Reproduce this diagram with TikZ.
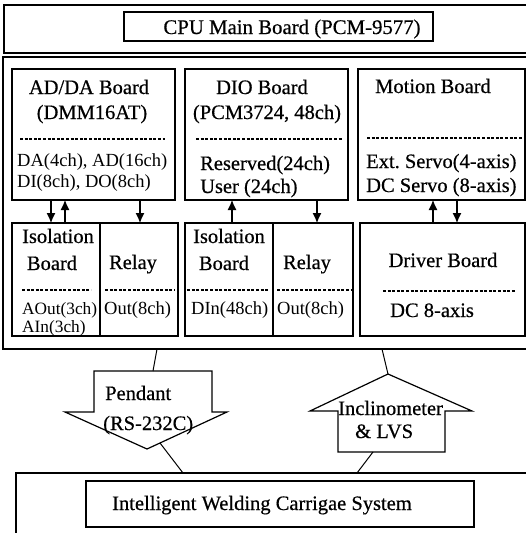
\documentclass[tikz,border=0pt]{standalone}
\usepackage{fontspec}
\setmainfont{Liberation Serif}
\newfontfamily\heavyserif[FakeBold=0.5]{Liberation Serif}
\usetikzlibrary{arrows.meta,fit}
\frenchspacing
\begin{document}
\begin{tikzpicture}[x=1pt,y=-1pt,
  frame/.style={draw, line width=1.2pt, inner sep=0pt, outer sep=0pt},
  big/.style={font=\heavyserif\fontsize{20.5}{24}\selectfont, inner sep=0pt},
  small/.style={font=\fontsize{18.5}{22}\selectfont, inner sep=0pt},
  sep/.style={line width=1.5pt, dash pattern=on 3pt off 1.6pt},
  link/.style={line width=1.1pt, -{Latex[length=10pt,width=9pt]}},
  wire/.style={line width=1pt},
  bigarrow/.style={draw, line width=1.2pt, line join=miter}
]
\useasboundingbox (0,0) rectangle (526,533);
\clip (0,0) rectangle (526,533);

% outer frames
\node[frame, fit={(4,5) (560,53)}] (topframe) {};
\node[frame, fit={(3,57) (560,349)}] (ctrl) {};
\node[frame, fit={(16,473) (560,560)}] (plant) {};

% CPU board
\node[frame, fit={(124,12) (433,41)}] (cpu) {};
\node[big, font=\heavyserif\fontsize{20.8}{24}\selectfont, anchor=base] (cputxt) at (292,34) {CPU Main Board (PCM-9577)};

% upper row of boards
\node[frame, fit={(12,69) (175,200)}] (adda) {};
\node[frame, fit={(185,69) (348,200)}] (dio) {};
\node[frame, fit={(358,69) (525,200)}] (motion) {};

\node[big, anchor=base] (addat1) at (89,94) {AD/DA Board};
\node[big, anchor=base] (addat2) at (92,119) {(DMM16AT)};
\draw[sep] (20,139) -- (165,139);
\node[small, anchor=base west] (addat3) at (17,166) {DA(4ch), AD(16ch)};
\node[small, anchor=base west] (addat4) at (17,187) {DI(8ch), DO(8ch)};

\node[big, anchor=base] (diot1) at (262,94) {DIO Board};
\node[big, anchor=base] (diot2) at (267,119) {(PCM3724, 48ch)};
\draw[sep] (196,139) -- (342,139);
\node[big, anchor=base west] (diot3) at (200,170) {Reserved(24ch)};
\node[big, anchor=base west] (diot4) at (200,193) {User (24ch)};

\node[big, anchor=base] (mott1) at (433,93) {Motion Board};
\draw[sep] (367,138) -- (522,138);
\node[big, anchor=base west] (mott2) at (366,168) {Ext. Servo(4-axis)};
\node[big, anchor=base west] (mott3) at (366,192) {DC Servo (8-axis)};

% lower row of boards
\node[frame, fit={(12,223) (100,336)}] (iso1) {};
\node[frame, fit={(100,223) (178,336)}] (relay1) {};
\node[frame, fit={(185,223) (273,336)}] (iso2) {};
\node[frame, fit={(273,223) (353,336)}] (relay2) {};
\node[frame, fit={(360,223) (525,336)}] (driver) {};

\node[big, anchor=base] (iso1t1) at (58,243) {Isolation};
\node[big, anchor=base] (iso1t2) at (52,270) {Board};
\draw[sep] (22,290) -- (91,290);
\node[small, font=\fontsize{17.3}{20}\selectfont, anchor=base west] (iso1t3) at (22,314) {AOut(3ch)};
\node[small, font=\fontsize{17.3}{20}\selectfont, anchor=base west] (iso1t4) at (22,332) {AIn(3ch)};

\node[big, anchor=base] (rel1t1) at (133,269) {Relay};
\draw[sep] (105,290) -- (175,290);
\node[small, anchor=base west] (rel1t2) at (104,314) {Out(8ch)};

\node[big, anchor=base] (iso2t1) at (229,243) {Isolation};
\node[big, anchor=base] (iso2t2) at (224,270) {Board};
\draw[sep] (187,290) -- (269,290);
\node[small, anchor=base west] (iso2t3) at (191,314) {DIn(48ch)};

\node[big, anchor=base] (rel2t1) at (307,269) {Relay};
\draw[sep] (277,290) -- (351,290);
\node[small, anchor=base west] (rel2t2) at (277,314) {Out(8ch)};

\node[big, anchor=base] (drvt1) at (443,267) {Driver Board};
\draw[sep] (383,291) -- (515,291);
\node[big, anchor=base west] (drvt2) at (390,317) {DC 8-axis};

% signal links between the rows
\draw[link] ([xshift=39pt]adda.south west) -- ([xshift=39pt]iso1.north west);
\draw[link] ([xshift=53pt]iso1.north west) -- ([xshift=53pt]adda.south west);
\draw[link] ([xshift=128pt]adda.south west) -- ([xshift=40pt]relay1.north west);
\draw[link] ([xshift=47pt]iso2.north west) -- ([xshift=47pt]dio.south west);
\draw[link] ([xshift=132pt]dio.south west) -- ([xshift=44pt]relay2.north west);
\draw[link] ([xshift=73pt]driver.north west) -- ([xshift=75pt]motion.south west);
\draw[link] ([xshift=99pt]motion.south west) -- ([xshift=97pt]driver.north west);

% pendant (down arrow)
\coordinate (pendTop) at (153,371);
\coordinate (pendTip) at (147,449);
\draw[bigarrow] (94,371) -- (212,371) -- (212,412) -- (227,412) -- (pendTip)
  -- (65,412) -- (94,412) -- cycle;
\node[big, anchor=base west] (pendt1) at (105,400) {Pendant};
\node[big, anchor=base west] (pendt2) at (103,430) {(RS-232C)};
\coordinate (ctrlP) at (157,349);
\coordinate (pendOut) at (160,443);
\coordinate (plantP) at (183,473);
\draw[wire] (ctrlP) -- (pendTop);
\draw[wire] (pendOut) -- (plantP);

% inclinometer and LVS (up arrow)
\coordinate (incTip) at (388,374);
\coordinate (incBase) at (373,452);
\draw[bigarrow] (incTip) -- (472,411) -- (445,411) -- (445,452) -- (338,452)
  -- (338,411) -- (310,411) -- cycle;
\node[big, anchor=base west] (inct1) at (338,415) {Inclinometer};
\node[big, anchor=base west] (inct2) at (355,438) {\& LVS};
\coordinate (ctrlI) at (382,349);
\coordinate (plantI) at (357,473);
\draw[wire] (ctrlI) -- (incTip);
\draw[wire] (incBase) -- (plantI);

% welding carriage
\node[frame, fit={(86,481) (474,527)}] (iwcs) {};
\node[big, anchor=base] (iwcst) at (262,510) {Intelligent Welding Carrigae System};
\end{tikzpicture}
\end{document}
